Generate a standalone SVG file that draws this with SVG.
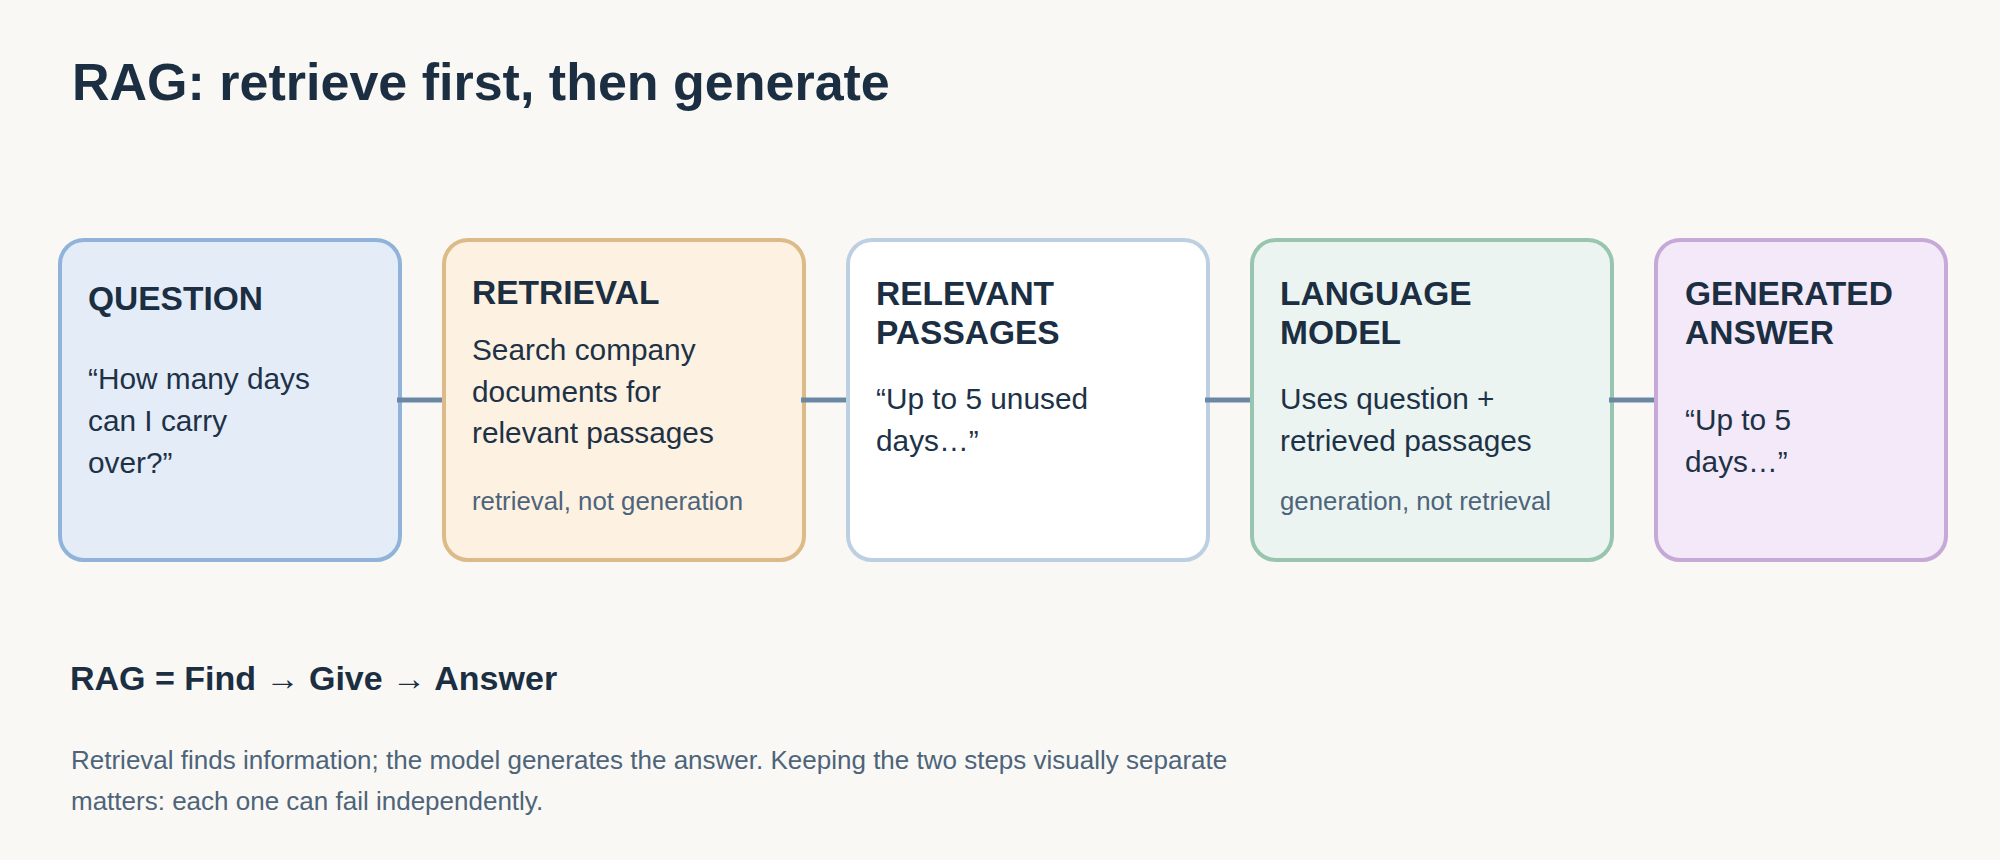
<svg xmlns="http://www.w3.org/2000/svg" width="2000" height="860" viewBox="0 0 2000 860">
  <style>
    text { font-family: "Liberation Sans", Arial, sans-serif; }
    .title { font-size: 52px; font-weight: bold; fill: #1b2e42; }
    .head { font-size: 33.5px; font-weight: bold; fill: #1b2e42; }
    .body { font-size: 29.8px; fill: #1e3247; }
    .note { font-size: 25.8px; fill: #4d647a; }
    .summary { font-size: 34px; font-weight: bold; fill: #1b2e42; }
    .foot { font-size: 26px; fill: #4d647a; }
    .box { stroke-width: 4; }
    .conn { stroke: #6a87a4; stroke-width: 5; fill: none; }
  </style>
  <rect x="0" y="0" width="2000" height="860" fill="#f9f8f4"/>
  <text class="title" x="72" y="100">RAG: retrieve first, then generate</text>

  <g id="question">
    <rect class="box" x="60" y="240" width="340" height="320" rx="24" fill="#e4ecf7" stroke="#8fb3d9"/>
    <text class="head" x="88" y="310">QUESTION</text>
    <text class="body" x="88" y="389">“How many days</text>
    <text class="body" x="88" y="431">can I carry</text>
    <text class="body" x="88" y="473">over?”</text>
  </g>

  <g id="retrieval">
    <rect class="box" x="444" y="240" width="360" height="320" rx="24" fill="#fdf1e1" stroke="#dcbb88"/>
    <text class="head" x="472" y="304">RETRIEVAL</text>
    <text class="body" x="472" y="360">Search company</text>
    <text class="body" x="472" y="401.5">documents for</text>
    <text class="body" x="472" y="443">relevant passages</text>
    <text class="note" x="472" y="509.5">retrieval, not generation</text>
  </g>

  <g id="passages">
    <rect class="box" x="848" y="240" width="360" height="320" rx="24" fill="#ffffff" stroke="#bdd0e2"/>
    <text class="head" x="876" y="304.5">RELEVANT</text>
    <text class="head" x="876" y="344">PASSAGES</text>
    <text class="body" x="876" y="409">“Up to 5 unused</text>
    <text class="body" x="876" y="451">days…”</text>
  </g>

  <g id="model">
    <rect class="box" x="1252" y="240" width="360" height="320" rx="24" fill="#ebf4f0" stroke="#98c5af"/>
    <text class="head" x="1280" y="304.5">LANGUAGE</text>
    <text class="head" x="1280" y="344">MODEL</text>
    <text class="body" x="1280" y="409">Uses question +</text>
    <text class="body" x="1280" y="451">retrieved passages</text>
    <text class="note" x="1280" y="509.5">generation, not retrieval</text>
  </g>

  <g id="answer">
    <rect class="box" x="1656" y="240" width="290" height="320" rx="24" fill="#f3e9f8" stroke="#c6a9d7"/>
    <text class="head" x="1685" y="304.5">GENERATED</text>
    <text class="head" x="1685" y="344">ANSWER</text>
    <text class="body" x="1685" y="429.5">“Up to 5</text>
    <text class="body" x="1685" y="471.5">days…”</text>
  </g>

  <g id="connectors">
    <line class="conn" x1="397" y1="400" x2="442" y2="400"/>
    <line class="conn" x1="801" y1="400" x2="846" y2="400"/>
    <line class="conn" x1="1205" y1="400" x2="1250" y2="400"/>
    <line class="conn" x1="1609" y1="400" x2="1654" y2="400"/>
  </g>

  <text class="summary" x="70" y="690">RAG = Find → Give → Answer</text>
  <text class="foot" x="71" y="769">Retrieval finds information; the model generates the answer. Keeping the two steps visually separate</text>
  <text class="foot" x="71" y="810">matters: each one can fail independently.</text>
</svg>
